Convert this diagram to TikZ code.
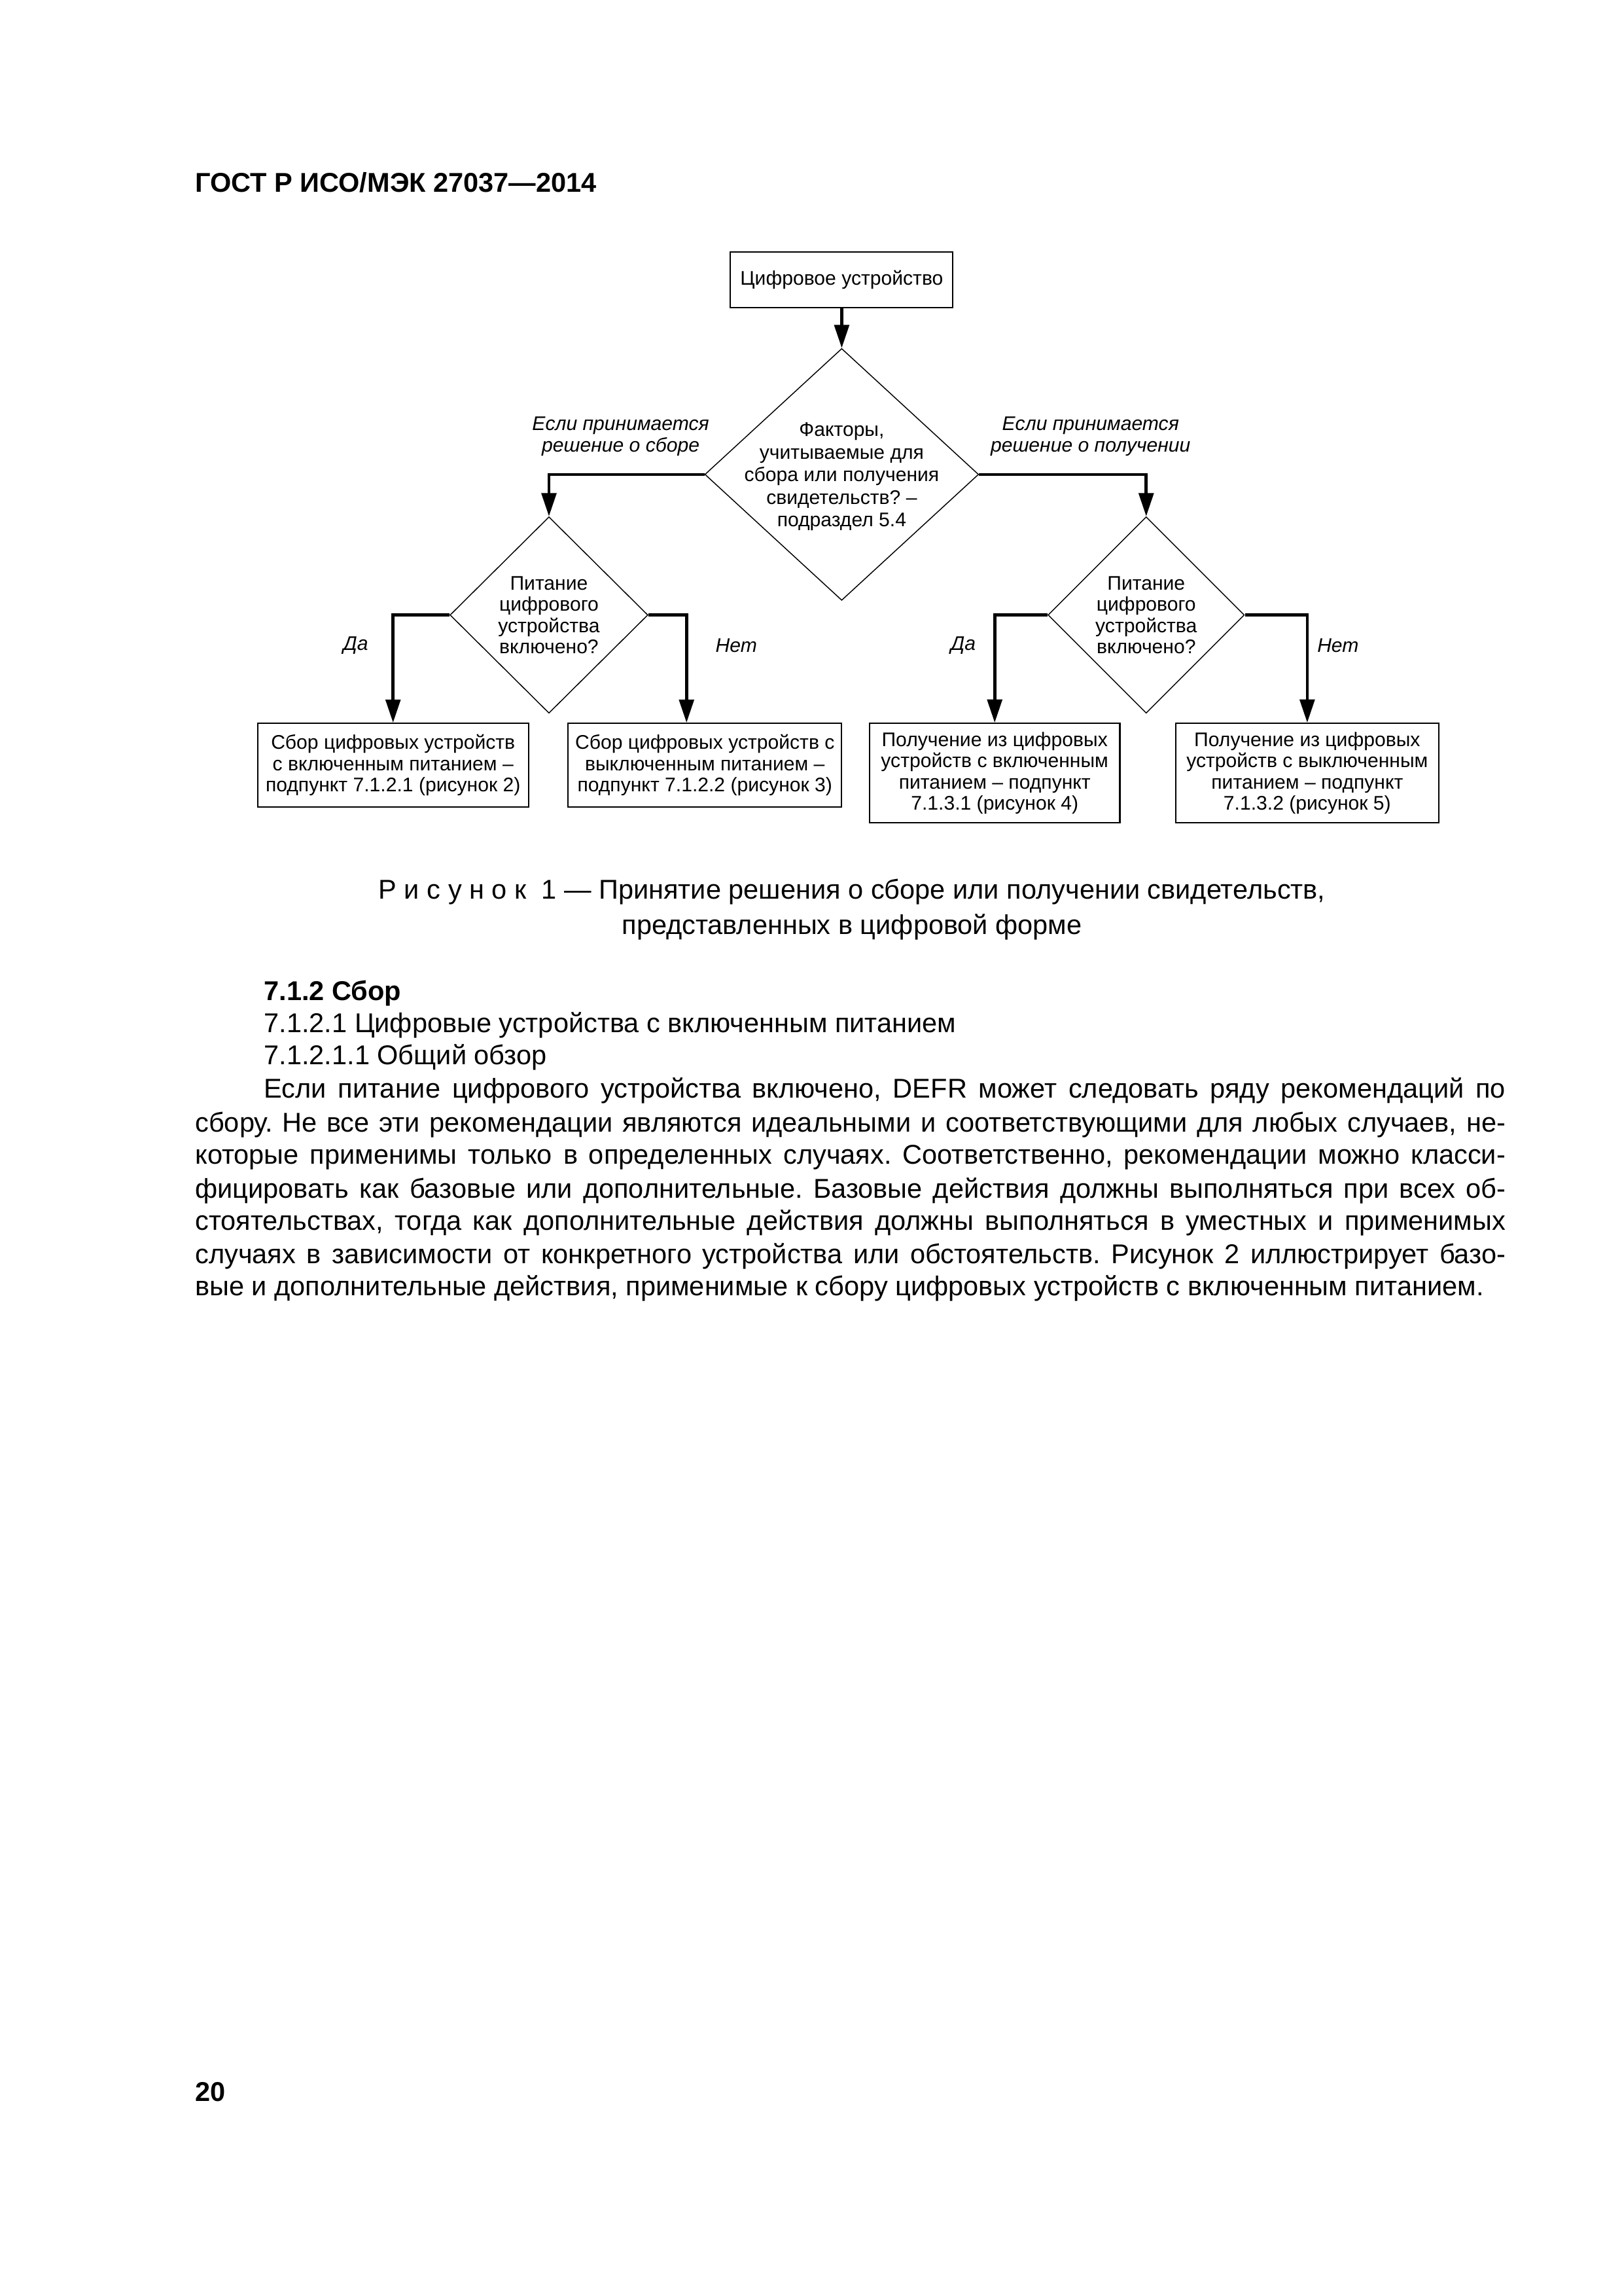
\documentclass[tikz,border=0pt]{standalone}
\usepackage{fontspec}
\setmainfont{Liberation Sans}
\usetikzlibrary{arrows.meta,shapes.geometric,calc}
\frenchspacing
\begin{document}
\frenchspacing
\begin{tikzpicture}[x=0.18936mm,y=-0.18936mm,
  dtext/.style={font=\fontsize{7.25}{7.8}\selectfont},
  mtext/.style={font=\fontsize{7.25}{8.3}\selectfont},
  boxnode/.style={draw,line width=0.5pt,inner sep=0pt,align=center,dtext},
  dia/.style={draw,shape=diamond,line width=0.35pt,inner sep=0pt,aspect=1},
  arr/.style={line width=1.1pt,-{Triangle[length=3mm,width=1.9mm]}},
  lbl/.style={font=\fontsize{7.25}{8.1}\selectfont\itshape,align=center,inner sep=0pt},
  body/.style={font=\fontsize{10}{12}\selectfont\frenchspacing,anchor=base west,inner sep=0pt},
  bodyb/.style={font=\fontsize{10}{12}\selectfont\bfseries,anchor=base west,inner sep=0pt}]
\useasboundingbox[fill=white] (0,0) rectangle (1109,1568);

\node[bodyb] (hdr) at (133,131) {ГОСТ Р ИСО/МЭК 27037—2014};

% diagram
\node[boxnode,minimum width=28.78mm,minimum height=7.2mm] (top) at (575,191) {Цифровое устройство};
\node[dia,minimum width=35.41mm,minimum height=32.57mm,
  label={[mtext,align=center,yshift=-0.3mm]center:Факторы,\\учитываемые для\\сбора или получения\\свидетельств? –\\подраздел 5.4}] (md) at (575,324) {};
\node[dia,minimum width=25.6mm,minimum height=25.4mm,
  label={[dtext,align=center]center:Питание\\цифрового\\устройства\\включено?}] (ld) at (375,420) {};
\node[dia,minimum width=25.4mm,minimum height=25.4mm,
  label={[dtext,align=center]center:Питание\\цифрового\\устройства\\включено?}] (rd) at (783,420) {};

\node[boxnode,minimum width=35.03mm,minimum height=10.79mm] (b1) at (268.5,522.5) {Сбор цифровых устройств\\с включенным питанием –\\подпункт 7.1.2.1 (рисунок 2)};
\node[boxnode,minimum width=35.41mm,minimum height=10.79mm] (b2) at (481.5,522.5) {Сбор цифровых устройств с\\выключенным питанием –\\подпункт 7.1.2.2 (рисунок 3)};
\node[boxnode,minimum width=32.38mm,minimum height=12.88mm] (b3) at (679.5,528) {Получение из цифровых\\устройств с включенным\\питанием – подпункт\\7.1.3.1 (рисунок 4)};
\node[boxnode,minimum width=34.08mm,minimum height=12.88mm] (b4) at (893,528) {Получение из цифровых\\устройств с выключенным\\питанием – подпункт\\7.1.3.2 (рисунок 5)};

\draw[arr] (top.south) -- (md.north);
\draw[arr] (md.west) -| (ld.north);
\draw[arr] (md.east) -| (rd.north);
\draw[arr] (ld.west) -| (b1.north);
\draw[arr] (ld.east) -| ([xshift=-2.37mm]b2.north);
\draw[arr] (rd.west) -| (b3.north);
\draw[arr] (rd.east) -| (b4.north);

\node[lbl] (l1) at (424,298) {Если принимается\\решение о сборе};
\node[lbl] (l2) at (745,298) {Если принимается\\решение о получении};
\node[lbl] (da1) at (243,441) {Да};
\node[lbl] (net1) at (503,441) {Нет};
\node[lbl] (da2) at (658,441) {Да};
\node[lbl] (net2) at (914,441) {Нет};

% caption
\node[font=\fontsize{10}{12}\selectfont,anchor=base,inner sep=0pt] (cap1) at (582,614) {Р и с у н о к\ \ 1 — Принятие решения о сборе или получении свидетельств,};
\node[font=\fontsize{10}{12}\selectfont,anchor=base,inner sep=0pt] (cap2) at (582,638) {представленных в цифровой форме};

% text
\node[bodyb] (h1) at (180,683) {7.1.2 Сбор};
\node[body] (h2) at (180,705) {7.1.2.1 Цифровые устройства с включенным питанием};
\node[body] (h3) at (180,727) {7.1.2.1.1 Общий обзор};
\node[body] (p1) at (180,750) {\makebox[160.6mm][s]{Если питание цифрового устройства включено, DEFR может следовать ряду рекомендаций по}};
\node[body] (p2) at (133,773) {\makebox[169.5mm][s]{сбору. Не все эти рекомендации являются идеальными и соответствующими для любых случаев, не-}};
\node[body] (p3) at (133,795) {\makebox[169.5mm][s]{которые применимы только в определенных случаях. Соответственно, рекомендации можно класси-}};
\node[body] (p4) at (133,818) {\makebox[169.5mm][s]{фицировать как базовые или дополнительные. Базовые действия должны выполняться при всех об-}};
\node[body] (p5) at (133,840) {\makebox[169.5mm][s]{стоятельствах, тогда как дополнительные действия должны выполняться в уместных и применимых}};
\node[body] (p6) at (133,863) {\makebox[169.5mm][s]{случаях в зависимости от конкретного устройства или обстоятельств. Рисунок 2 иллюстрирует базо-}};
\node[body] (p7) at (133,885) {вые и дополнительные действия, применимые к сбору цифровых устройств с включенным питанием.};

\node[bodyb] (pg) at (133,1435) {20};
\end{tikzpicture}
\end{document}
